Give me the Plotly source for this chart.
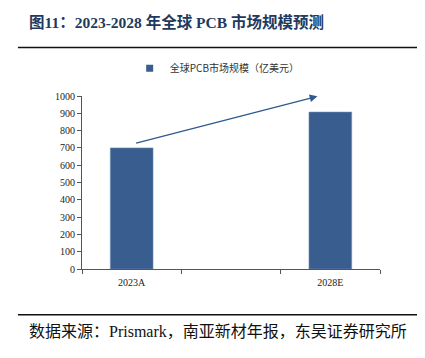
import plotly.graph_objects as go

categories = ["2023A", " ", "2028E"]
values = [700, None, 907]
series_name = "全球PCB市场规模（亿美元）"
y_ticks = [0, 100, 200, 300, 400, 500, 600, 700, 800, 900, 1000]
arrow_start = (0.03, 725)
arrow_end = (1.87, 998)

BAR = "#385D8E"
SERIF = "Liberation Serif, Times New Roman, serif"
CJK = "Liberation Serif, Noto Sans CJK SC, sans-serif"

fig = go.Figure()
fig.add_trace(go.Bar(
    x=categories, y=values, name=series_name,
    marker=dict(color=BAR, line=dict(color="#6F8DB5", width=0.6)),
    width=0.43, showlegend=False,
))
# legend entry with small square symbol
fig.add_trace(go.Scatter(
    x=[None], y=[None], mode="markers", name=series_name,
    marker=dict(symbol="square", size=7, color=BAR), showlegend=True,
))

fig.add_annotation(
    x=arrow_end[0], y=arrow_end[1], ax=arrow_start[0], ay=arrow_start[1],
    xref="x", yref="y", axref="x", ayref="y",
    text="", showarrow=True, arrowhead=2, arrowsize=1.1, arrowwidth=1.4,
    arrowcolor="#2F5A8F",
)

# title and source
fig.add_annotation(
    xref="paper", yref="paper", x=-0.185, y=1.425, xanchor="left", yanchor="middle",
    text="<b>图11：2023-2028 年全球 PCB 市场规模预测</b>", showarrow=False,
    font=dict(family=CJK, size=15.5, color="#1F3A60"),
)
fig.add_annotation(
    xref="paper", yref="paper", x=-0.185, y=-0.364, xanchor="left", yanchor="middle",
    text="数据来源：Prismark，南亚新材年报，东吴证券研究所", showarrow=False,
    font=dict(family=CJK, size=16, color="#111111"),
)
fig.add_shape(type="line", xref="paper", yref="paper", x0=-0.215, x1=1.134, y0=1.281, y1=1.281,
              line=dict(color="#111111", width=1.5))
fig.add_shape(type="line", xref="paper", yref="paper", x0=-0.215, x1=1.134, y0=-0.265, y1=-0.265,
              line=dict(color="#111111", width=1.5))

fig.update_layout(
    width=417, height=350,
    margin=dict(l=74, r=45, t=88, b=89),
    paper_bgcolor="white", plot_bgcolor="white",
    font=dict(family=SERIF, size=10, color="#222222"),
    legend=dict(orientation="h", x=0.16, y=1.16, xanchor="left", yanchor="middle",
                font=dict(family="Noto Sans CJK SC, sans-serif", size=10, color="#333333"),
                itemwidth=30, bgcolor="rgba(0,0,0,0)"),
    xaxis=dict(type="category", categoryorder="array", categoryarray=categories,
               showline=True, linecolor="#555555", linewidth=1,
               ticks="outside", tickson="boundaries", ticklen=4, tickcolor="#555555",
               ticklabelstandoff=4,
               showgrid=False, tickfont=dict(family=SERIF, size=10)),
    yaxis=dict(range=[0, 1000], tickvals=y_ticks, showline=True, linecolor="#555555", linewidth=1,
               ticks="outside", ticklen=4, tickcolor="#555555", showgrid=False, zeroline=False,
               tickfont=dict(family=SERIF, size=10)),
    bargap=0.57,
)

fig.write_html("out.html")
